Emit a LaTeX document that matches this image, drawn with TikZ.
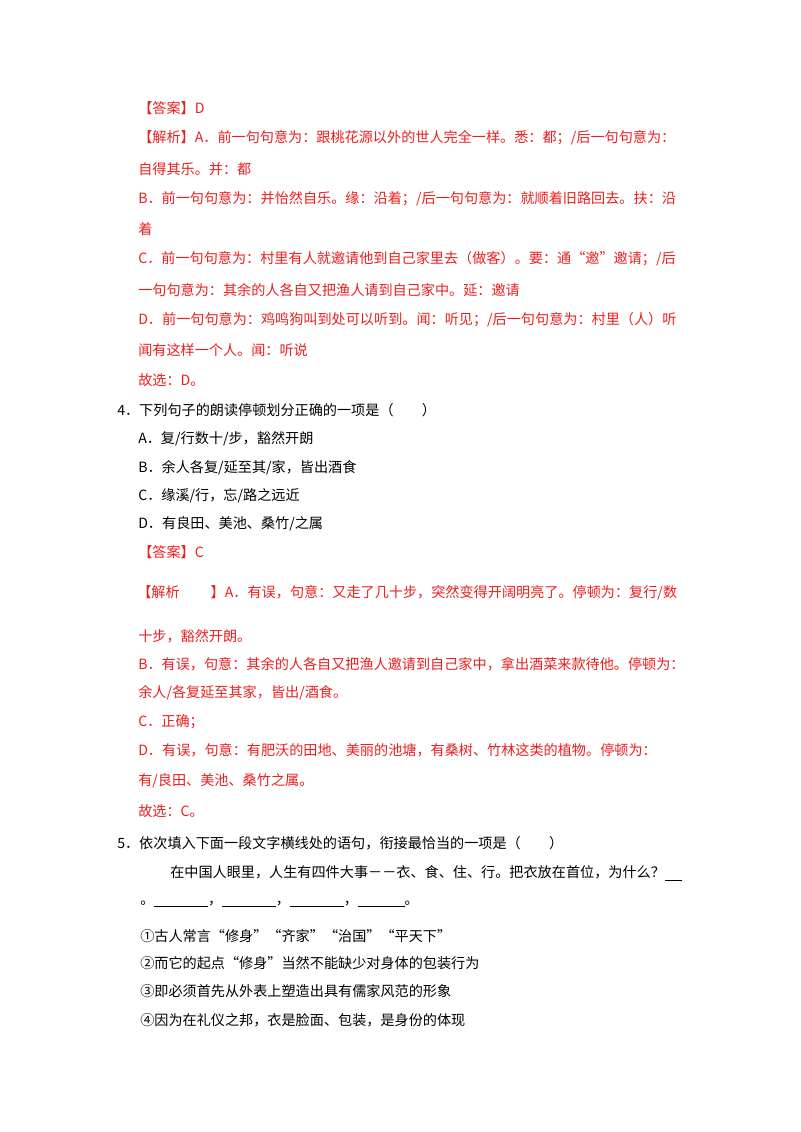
\documentclass[tikz,border=0pt]{standalone}
\usepackage{fontspec}
\newfontfamily\cjk{Noto Sans CJK SC}
\definecolor{ans}{RGB}{235,30,30}
\begin{document}
\begin{tikzpicture}[x=0.75pt,y=-0.75pt,
  ln/.style={anchor=west,inner sep=0pt,font=\cjk\fontsize{10.6}{12}\selectfont},
  rd/.style={ln,text=ans}]
\useasboundingbox (0,0) rectangle (800,1132);
\node[rd] (l1) at (138,108) {【答案】D};
\node[rd] (l2) at (138,138) {【解析】A．前一句句意为：跟桃花源以外的世人完全一样。悉：都；/后一句句意为：};
\node[rd] (l3) at (138,169) {自得其乐。并：都};
\node[rd] (l4) at (138,199) {B．前一句句意为：并怡然自乐。缘：沿着；/后一句句意为：就顺着旧路回去。扶：沿};
\node[rd] (l5) at (138,229) {着};
\node[rd] (l6) at (138,259) {C．前一句句意为：村里有人就邀请他到自己家里去（做客）。要：通“邀”邀请；/后};
\node[rd] (l7) at (138,290) {一句句意为：其余的人各自又把渔人请到自己家中。延：邀请};
\node[rd] (l8) at (138,320) {D．前一句句意为：鸡鸣狗叫到处可以听到。闻：听见；/后一句句意为：村里（人）听};
\node[rd] (l9) at (138,350) {闻有这样一个人。闻：听说};
\node[rd] (l10) at (138,380) {故选：D。};
\node[ln] (q4) at (117,410) {4．下列句子的朗读停顿划分正确的一项是（\hspace{2em}）};
\node[ln] (q4a) at (138,439) {A．复/行数十/步，豁然开朗};
\node[ln] (q4b) at (138,468) {B．余人各复/延至其/家，皆出酒食};
\node[ln] (q4c) at (138,496) {C．缘溪/行，忘/路之远近};
\node[ln] (q4d) at (138,524) {D．有良田、美池、桑竹/之属};
\node[rd] (m1) at (138,552) {【答案】C};
\node[rd] (m2) at (137,593) {【解析\hspace{2.2em}】A．有误，句意：又走了几十步，突然变得开阔明亮了。停顿为：复行/数};
\node[rd] (m3) at (138,636) {十步，豁然开朗。};
\node[rd] (m4) at (138,664) {B．有误，句意：其余的人各自又把渔人邀请到自己家中，拿出酒菜来款待他。停顿为：};
\node[rd] (m5) at (138,693) {余人/各复延至其家，皆出/酒食。};
\node[rd] (m6) at (138,722) {C．正确；};
\node[rd] (m7) at (138,750) {D．有误，句意：有肥沃的田地、美丽的池塘，有桑树、竹林这类的植物。停顿为：};
\node[rd] (m8) at (138,781) {有/良田、美池、桑竹之属。};
\node[rd] (m9) at (138,811) {故选：C。};
\node[ln] (q5) at (117,843) {5．依次填入下面一段文字横线处的语句，衔接最恰当的一项是（\hspace{2em}）};
\node[ln] (q5p) at (170,873) {在中国人眼里，人生有四件大事－－衣、食、住、行。把衣放在首位，为什么？\rule[-2pt]{1.2em}{0.5pt}};
\node[ln] (q5b) at (140,904) {。\rule[-2pt]{3.8em}{0.5pt}，\rule[-2pt]{3.8em}{0.5pt}，\rule[-2pt]{3.8em}{0.5pt}，\rule[-2pt]{3.3em}{0.5pt}。};
\node[ln] (o1) at (140,936) {①古人常言“修身”“齐家”“治国”“平天下”};
\node[ln] (o2) at (140,963) {②而它的起点“修身”当然不能缺少对身体的包装行为};
\node[ln] (o3) at (140,991) {③即必须首先从外表上塑造出具有儒家风范的形象};
\node[ln] (o4) at (140,1020) {④因为在礼仪之邦，衣是脸面、包装，是身份的体现};
\end{tikzpicture}
\end{document}
